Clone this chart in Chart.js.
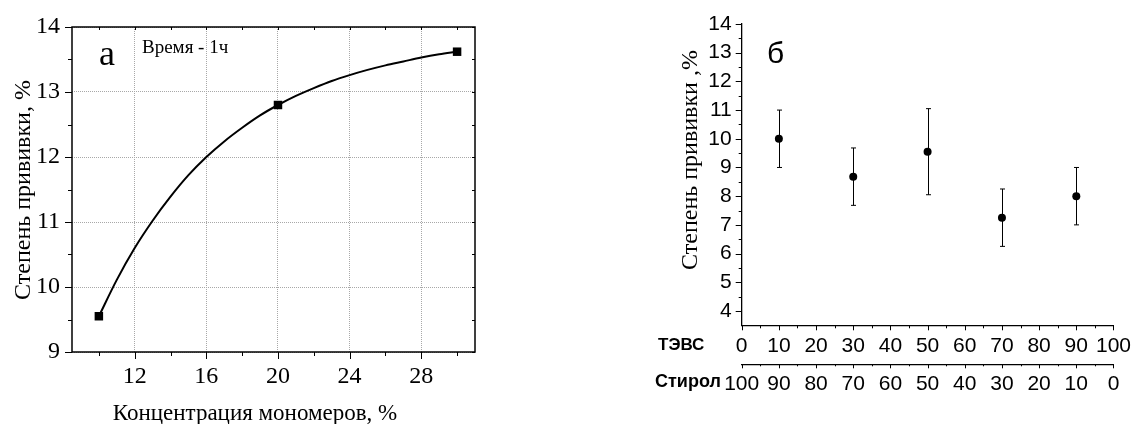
<!DOCTYPE html>
<html>
<head>
<meta charset="utf-8">
<script src="https://cdn.jsdelivr.net/npm/chart.js@4"></script>
<style>
  html, body { margin: 0; padding: 0; background: #fff; }
  #wrap { position: relative; width: 1139px; height: 424px; overflow: hidden; }
  #chartA { position: absolute; left: 0; top: 0; }
  #chartB { position: absolute; left: 640px; top: 0; }
</style>
</head>
<body>
<div id="wrap">
  <canvas id="chartA" width="560" height="424"></canvas>
  <canvas id="chartB" width="499" height="424"></canvas>
</div>
<script>
// Panel a: grafting degree vs monomer concentration
const concX = [10, 20, 30];
const grafting = [9.55, 12.8, 13.62];
// smooth fit line
const curveX = [10, 11, 12, 13, 14, 15, 16, 17, 18, 19, 20, 21, 22, 23, 24, 25, 26, 27, 28, 29, 30];
const curveY = [9.55, 10.11, 10.6, 11.02, 11.39, 11.72, 12.0, 12.24, 12.45, 12.64, 12.8, 12.94, 13.06, 13.17, 13.26, 13.34, 13.41, 13.47, 13.53, 13.58, 13.62];
const xTicksA = [12, 16, 20, 24, 28];

// Panel б: grafting degree vs composition (ТЭВС / Стирол)
const tevs = [10, 30, 50, 70, 90];
const graftingB = [10, 8.68, 9.55, 7.25, 8.0];
const errB = [1, 1, 1.5, 1, 1];
const xTicksB = [0, 10, 20, 30, 40, 50, 60, 70, 80, 90, 100];

Chart.defaults.color = '#000';
Chart.defaults.animation = false;

function line(ctx, x1, y1, x2, y2) {
  ctx.beginPath();
  ctx.moveTo(x1, y1);
  ctx.lineTo(x2, y2);
  ctx.stroke();
}

// Frame, ticks and captions for panel a
const decorA = {
  id: 'decorA',
  afterDraw(chart) {
    const { ctx, chartArea: a, scales: { x, y } } = chart;
    ctx.save();
    ctx.strokeStyle = '#000';
    ctx.lineWidth = 1.5;
    ctx.strokeRect(a.left, a.top, a.right - a.left, a.bottom - a.top);
    ctx.lineWidth = 1;
    for (let v = 10; v <= 30; v += 2) {
      const px = Math.round(x.getPixelForValue(v)) + 0.5;
      const major = xTicksA.includes(v);
      line(ctx, px, a.bottom, px, a.bottom + (major ? 7 : 4));
      line(ctx, px, a.top, px, a.top + 3);
    }
    for (let v = 9; v <= 14; v += 0.5) {
      const py = Math.round(y.getPixelForValue(v)) + 0.5;
      const major = Number.isInteger(v);
      line(ctx, a.left - (major ? 7 : 4), py, a.left, py);
      line(ctx, a.right - 3, py, a.right, py);
    }
    ctx.fillStyle = '#000';
    ctx.textAlign = 'center';
    ctx.textBaseline = 'alphabetic';
    ctx.font = '23px "Liberation Serif"';
    ctx.fillText('Концентрация мономеров, %', 255, 420);
    ctx.font = '24px "Liberation Serif"';
    ctx.save();
    ctx.translate(30, 190);
    ctx.rotate(-Math.PI / 2);
    ctx.fillText('Степень прививки, %', 0, 0);
    ctx.restore();
    ctx.textAlign = 'left';
    ctx.font = '36px "Liberation Serif"';
    ctx.fillText('a', 99, 65);
    ctx.font = '19px "Liberation Serif"';
    ctx.fillText('Время - 1ч', 142, 53);
    ctx.restore();
  }
};

new Chart(document.getElementById('chartA'), {
  type: 'scatter',
  data: {
    datasets: [
      {
        data: concX.map((v, i) => ({ x: v, y: grafting[i] })),
        pointStyle: 'rect',
        pointRadius: 6,
        backgroundColor: '#000',
        borderColor: '#000',
        borderWidth: 0,
        showLine: false
      },
      {
        data: curveX.map((v, i) => ({ x: v, y: curveY[i] })),
        showLine: true,
        pointRadius: 0,
        borderColor: '#000',
        borderWidth: 2,
        cubicInterpolationMode: 'monotone',
        fill: false
      }
    ]
  },
  options: {
    responsive: false,
    events: [],
    layout: { padding: { top: 27, right: 85, left: 0, bottom: 0 } },
    plugins: { legend: { display: false }, tooltip: { enabled: false } },
    scales: {
      x: {
        type: 'linear',
        min: 8.5,
        max: 31,
        afterBuildTicks: (scale) => { scale.ticks = xTicksA.map(v => ({ value: v })); },
        afterFit: (scale) => { scale.height = 72; },
        grid: { color: '#a8a8a8', lineWidth: 1, drawTicks: false },
        border: { display: false, dash: [1, 1] },
        ticks: { font: { family: 'Liberation Serif', size: 24 }, padding: 10, maxRotation: 0 }
      },
      y: {
        min: 9,
        max: 14,
        afterFit: (scale) => { scale.width = 72; },
        grid: { color: '#a8a8a8', lineWidth: 1, drawTicks: false },
        border: { display: false, dash: [1, 1] },
        ticks: { stepSize: 1, font: { family: 'Liberation Serif', size: 24 }, padding: 12 }
      }
    }
  },
  plugins: [decorA]
});

// Error bars, ticks and captions for panel б
const decorB = {
  id: 'decorB',
  beforeDatasetsDraw(chart) {
    const { ctx, scales: { x, y } } = chart;
    ctx.save();
    ctx.strokeStyle = '#000';
    ctx.lineWidth = 1;
    tevs.forEach((v, i) => {
      const px = Math.round(x.getPixelForValue(v)) + 0.5;
      const top = y.getPixelForValue(graftingB[i] + errB[i]);
      const bot = y.getPixelForValue(graftingB[i] - errB[i]);
      line(ctx, px, top, px, bot);
      line(ctx, px - 2.5, top, px + 2.5, top);
      line(ctx, px - 2.5, bot, px + 2.5, bot);
    });
    ctx.restore();
  },
  afterDraw(chart) {
    const { ctx, chartArea: a, scales: { x, x2, y } } = chart;
    ctx.save();
    ctx.strokeStyle = '#000';
    ctx.lineWidth = 1;
    for (let v = 0; v <= 100; v += 5) {
      const major = v % 10 === 0;
      const px = Math.round(x.getPixelForValue(v)) + 0.5;
      line(ctx, px, a.bottom, px, a.bottom + (major ? 5 : 3));
      const px2 = Math.round(x2.getPixelForValue(100 - v)) + 0.5;
      line(ctx, px2, x2.top, px2, x2.top + (major ? 4 : 2));
    }
    for (let v = 4; v <= 14; v += 0.5) {
      const major = Number.isInteger(v);
      const py = Math.round(y.getPixelForValue(v)) + 0.5;
      line(ctx, a.left - (major ? 6 : 3), py, a.left, py);
    }
    ctx.fillStyle = '#000';
    ctx.textBaseline = 'alphabetic';
    ctx.textAlign = 'center';
    ctx.font = '24px "Liberation Serif"';
    ctx.save();
    ctx.translate(57, 160);
    ctx.rotate(-Math.PI / 2);
    ctx.fillText('Степень прививки ,%', 0, 0);
    ctx.restore();
    ctx.textAlign = 'left';
    ctx.font = '30px "Liberation Sans"';
    ctx.fillText('б', 127, 63);
    ctx.textBaseline = 'middle';
    ctx.font = 'bold 17px "Liberation Sans"';
    ctx.fillText('ТЭВС', 18, 345);
    ctx.font = 'bold 18px "Liberation Sans"';
    ctx.fillText('Стирол', 15, 382);
    ctx.restore();
  }
};

const sansTicks = { family: 'Liberation Sans', size: 21 };

new Chart(document.getElementById('chartB'), {
  type: 'scatter',
  data: {
    datasets: [{
      data: tevs.map((v, i) => ({ x: v, y: graftingB[i] })),
      pointStyle: 'circle',
      pointRadius: 4,
      backgroundColor: '#000',
      borderColor: '#000',
      borderWidth: 0,
      showLine: false
    }]
  },
  options: {
    responsive: false,
    events: [],
    layout: { padding: { top: 24, right: 21, left: 0, bottom: 0 } },
    plugins: { legend: { display: false }, tooltip: { enabled: false } },
    scales: {
      x: {
        type: 'linear',
        position: 'bottom',
        weight: 0,
        min: 0,
        max: 100,
        afterBuildTicks: (scale) => { scale.ticks = xTicksB.map(v => ({ value: v })); },
        afterFit: (scale) => { scale.height = 39; },
        grid: { display: false, drawTicks: false },
        border: { display: true, color: '#000', width: 1.3 },
        ticks: { font: sansTicks, padding: 8, maxRotation: 0, autoSkip: false }
      },
      x2: {
        type: 'linear',
        position: 'bottom',
        weight: 1,
        reverse: true,
        min: 0,
        max: 100,
        afterBuildTicks: (scale) => { scale.ticks = xTicksB.map(v => ({ value: v })); },
        afterFit: (scale) => { scale.height = 59.7; },
        grid: { display: false, drawTicks: false },
        border: { display: true, color: '#000', width: 1.3 },
        ticks: { font: sansTicks, padding: 7, maxRotation: 0, autoSkip: false }
      },
      y: {
        min: 3.5,
        max: 14,
        afterBuildTicks: (scale) => {
          scale.ticks = [4, 5, 6, 7, 8, 9, 10, 11, 12, 13, 14].map(v => ({ value: v }));
        },
        afterFit: (scale) => { scale.width = 101.7; },
        grid: { display: false, drawTicks: false },
        border: { display: true, color: '#000', width: 1.3 },
        ticks: { font: sansTicks, padding: 10 }
      }
    }
  },
  plugins: [decorB]
});
</script>
</body>
</html>
